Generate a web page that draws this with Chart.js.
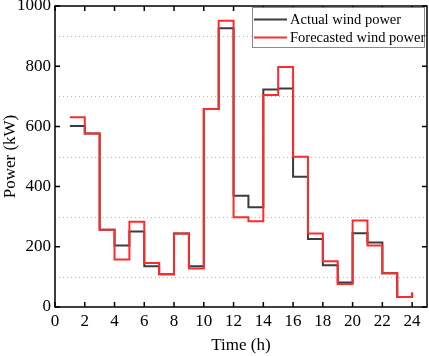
<!DOCTYPE html>
<html>
<head>
<meta charset="utf-8">
<script src="https://cdn.jsdelivr.net/npm/chart.js@4"></script>
<style>
  html, body { margin: 0; padding: 0; background: #fff; }
  #wrap { width: 429px; height: 356px; }
</style>
</head>
<body>
<div id="wrap"><canvas id="windChart" width="429" height="356"></canvas></div>
<script>
// Hourly wind power (kW)
const hours = [1, 2, 3, 4, 5, 6, 7, 8, 9, 10, 11, 12, 13, 14, 15, 16, 17, 18, 19, 20, 21, 22, 23, 24];
const actualPower = [601, 576, 257, 204, 251, 135, 109, 244, 135, 658, 926, 370, 331, 723, 726, 433, 226, 139, 81, 245, 214, 112, 33, 45];
const forecastPower = [630, 576, 257, 158, 283, 146, 109, 244, 128, 658, 951, 298, 285, 704, 797, 499, 244, 152, 76, 287, 204, 112, 33, 49];

const xTicks = [0, 2, 4, 6, 8, 10, 12, 14, 16, 18, 20, 22, 24];
const yTicks = [0, 200, 400, 600, 800, 1000];
const yGridLines = [100, 300, 500, 700, 900];

const serif = "'Liberation Serif', 'Times New Roman', serif";

// dotted grid, framed box with inward ticks, legend inside the plot
const frame = {
    id: 'frame',
    beforeDatasetsDraw(chart) {
        const { ctx, chartArea: a, scales: { y } } = chart;
        ctx.save();
        ctx.strokeStyle = '#b4b4b4';
        ctx.lineWidth = 1;
        ctx.setLineDash([1, 3]);
        yGridLines.forEach(v => {
            const py = Math.round(y.getPixelForValue(v)) + 0.5;
            ctx.beginPath();
            ctx.moveTo(a.left, py);
            ctx.lineTo(a.right, py);
            ctx.stroke();
        });
        ctx.restore();
    },
    afterDatasetsDraw(chart) {
        const { ctx, chartArea: a, scales: { x, y } } = chart;
        ctx.save();
        ctx.strokeStyle = '#000';
        ctx.lineWidth = 1.5;
        ctx.strokeRect(a.left, a.top, a.right - a.left, a.bottom - a.top);
        ctx.beginPath();
        xTicks.forEach(v => {
            const px = x.getPixelForValue(v);
            ctx.moveTo(px, a.bottom); ctx.lineTo(px, a.bottom - 5);
            ctx.moveTo(px, a.top); ctx.lineTo(px, a.top + 5);
        });
        yTicks.forEach(v => {
            const py = y.getPixelForValue(v);
            ctx.moveTo(a.left, py); ctx.lineTo(a.left + 5, py);
            ctx.moveTo(a.right, py); ctx.lineTo(a.right - 5, py);
        });
        ctx.stroke();

        // legend
        const bx = 252.5, by = 7.5, bw = 172, bh = 40;
        ctx.fillStyle = '#fff';
        ctx.fillRect(bx, by, bw, bh);
        ctx.strokeStyle = '#8a8a8a';
        ctx.lineWidth = 1;
        ctx.strokeRect(bx, by, bw, bh);
        ctx.font = '14.5px ' + serif;
        ctx.textBaseline = 'middle';
        chart.data.datasets.forEach((ds, i) => {
            const ly = 19.5 + i * 18;
            ctx.strokeStyle = ds.borderColor;
            ctx.lineWidth = 2;
            ctx.beginPath();
            ctx.moveTo(254, ly);
            ctx.lineTo(287, ly);
            ctx.stroke();
            ctx.fillStyle = '#000';
            ctx.fillText(ds.label, 290, ly + 1);
        });
        ctx.restore();
    }
};

const ctxWind = document.getElementById('windChart').getContext('2d');
const windChart = new Chart(ctxWind, {
    type: 'line',
    data: {
        datasets: [{
            label: 'Actual wind power',
            data: hours.map((h, i) => ({ x: h, y: actualPower[i] })),
            borderColor: '#3c3c3c',
            borderWidth: 2,
            stepped: true,
            pointRadius: 0,
            fill: false,
            order: 2
        }, {
            label: 'Forecasted wind power',
            data: hours.map((h, i) => ({ x: h, y: forecastPower[i] })),
            borderColor: '#ff2a2a',
            borderWidth: 2,
            stepped: true,
            pointRadius: 0,
            fill: false,
            order: 1
        }]
    },
    options: {
        responsive: false,
        animation: false,
        layout: { padding: { top: 6, right: 2, left: 0, bottom: 0 } },
        plugins: { legend: { display: false }, tooltip: { enabled: false } },
        scales: {
            x: {
                type: 'linear',
                min: 0,
                max: 25,
                afterBuildTicks: s => { s.ticks = xTicks.map(v => ({ value: v })); },
                afterFit: s => { s.height = 49; s.paddingLeft = 0; s.paddingRight = 0; },
                grid: { display: false, drawTicks: false },
                border: { display: false },
                ticks: { color: '#000', font: { family: serif, size: 17 }, padding: 4, maxRotation: 0, autoSkip: false },
                title: { display: true, text: 'Time (h)', color: '#000', font: { family: serif, size: 17 }, padding: { top: 2, bottom: 0 } }
            },
            y: {
                min: 0,
                max: 1000,
                afterBuildTicks: s => { s.ticks = yTicks.map(v => ({ value: v })); },
                afterFit: s => { s.width = 55; s.paddingTop = 0; s.paddingBottom = 0; },
                grid: { display: false, drawTicks: false },
                border: { display: false },
                ticks: { color: '#000', font: { family: serif, size: 17 }, padding: 4, callback: v => String(v) },
                title: { display: true, text: 'Power (kW)', color: '#000', font: { family: serif, size: 17 }, padding: { top: 0, bottom: 2 } }
            }
        }
    },
    plugins: [frame]
});
</script>
</body>
</html>
